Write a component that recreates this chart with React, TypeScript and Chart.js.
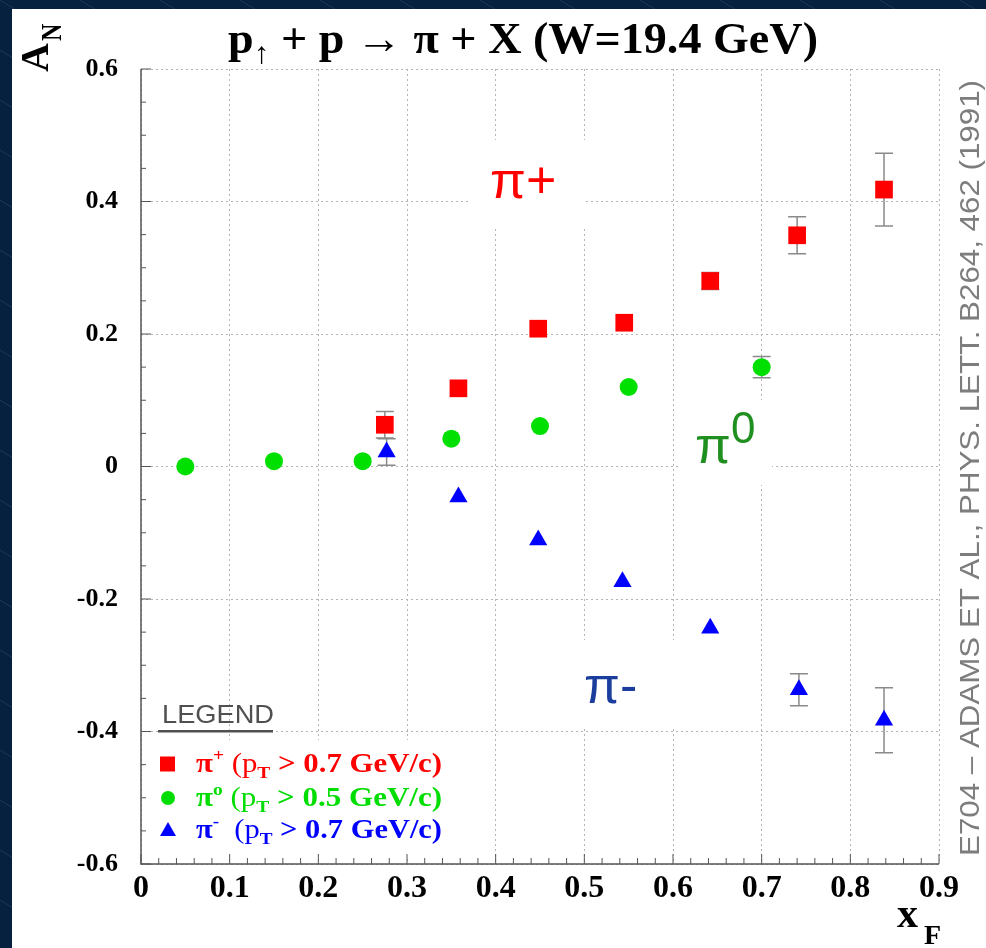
import React, { useEffect, useRef } from 'react';
import { Chart, registerables } from 'chart.js';

Chart.register(...registerables);

// ---- data ----
const piPlusX = [0.275, 0.358, 0.448, 0.545, 0.642, 0.74, 0.838];
const piPlusY = [0.063, 0.118, 0.208, 0.217, 0.28, 0.349, 0.418];
const piPlusErr = [0.02, 0.01, 0.008, 0.008, 0.013, 0.028, 0.055];

const piZeroX = [0.05, 0.15, 0.25, 0.35, 0.45, 0.55, 0.7];
const piZeroY = [0.0, 0.008, 0.008, 0.042, 0.061, 0.12, 0.15];
const piZeroErr = [0.006, 0.006, 0.006, 0.006, 0.008, 0.01, 0.016];

const piMinusX = [0.277, 0.358, 0.448, 0.543, 0.642, 0.742, 0.838];
const piMinusY = [0.022, -0.046, -0.111, -0.174, -0.244, -0.337, -0.383];
const piMinusErr = [0.02, 0.01, 0.008, 0.008, 0.01, 0.024, 0.049];

const xTickLabels = ['0', '0.1', '0.2', '0.3', '0.4', '0.5', '0.6', '0.7', '0.8', '0.9'];
const yTickLabels = ['-0.6', '-0.4', '-0.2', '0', '0.2', '0.4', '0.6'];

const titleParts = ['p', '↑', ' + p → π + X (W=19.4 GeV)'];
const legendRows = [
  { sup: '+', rest: ' > 0.7 GeV/c)', lead: ' (p' },
  { sup: 'o', rest: ' > 0.5 GeV/c)', lead: ' (p' },
  { sup: '-', rest: ' > 0.7 GeV/c)', lead: '  (p' },
];
const creditText = 'E704 – ADAMS ET AL., PHYS. LETT. B264, 462 (1991)';

const W = 986;
const H = 948;
const SERIF = '"Liberation Serif", "Times New Roman", serif';
const SANS = '"Liberation Sans", Arial, sans-serif';

type Seg = { t: string; font: string; dy: number; color?: string };

function drawSegs(ctx: CanvasRenderingContext2D, segs: Seg[], x: number, y: number, color: string, targetW?: number) {
  let total = 0;
  const widths = segs.map((s) => {
    ctx.font = s.font;
    const w = ctx.measureText(s.t).width;
    total += w;
    return w;
  });
  const sx = targetW ? targetW / total : 1;
  ctx.save();
  ctx.translate(x, y);
  ctx.scale(sx, 1);
  ctx.textAlign = 'left';
  ctx.textBaseline = 'alphabetic';
  let cx = 0;
  segs.forEach((s, i) => {
    ctx.font = s.font;
    ctx.fillStyle = s.color || color;
    ctx.fillText(s.t, cx, s.dy);
    cx += widths[i];
  });
  ctx.restore();
}

const errorBarPlugin = {
  id: 'errorBars',
  beforeDatasetsDraw(chart: any) {
    const { ctx, scales } = chart;
    const xs = scales.x;
    const ys = scales.y;
    ctx.save();
    ctx.strokeStyle = '#8a8a8a';
    ctx.lineWidth = 1.5;
    chart.data.datasets.forEach((ds: any) => {
      ds.data.forEach((p: any, i: number) => {
        const e = ds.errors[i];
        const px = xs.getPixelForValue(p.x);
        const y1 = ys.getPixelForValue(p.y + e);
        const y2 = ys.getPixelForValue(p.y - e);
        // bars shorter than the marker stay hidden behind it
        if (Math.abs(y2 - y1) / 2 < 8) return;
        ctx.beginPath();
        ctx.moveTo(px, y1);
        ctx.lineTo(px, y2);
        ctx.moveTo(px - 9, y1);
        ctx.lineTo(px + 9, y1);
        ctx.moveTo(px - 9, y2);
        ctx.lineTo(px + 9, y2);
        ctx.stroke();
      });
    });
    ctx.restore();
  },
};

const decorPlugin = {
  id: 'decor',
  beforeDraw(chart: any) {
    const ctx = chart.ctx as CanvasRenderingContext2D;
    ctx.save();
    ctx.fillStyle = '#06203f';
    ctx.fillRect(0, 0, W, H);
    ctx.strokeStyle = 'rgba(120,150,200,0.2)';
    ctx.lineWidth = 1;
    for (let k = -20; k < 30; k++) {
      const x0 = k * 80;
      ctx.beginPath();
      ctx.moveTo(x0, 0);
      ctx.lineTo(x0 + 1600, 1000);
      ctx.stroke();
    }
    ctx.fillStyle = '#ffffff';
    ctx.fillRect(12, 9, W - 12, H - 9);
    ctx.restore();
  },
  beforeDatasetsDraw(chart: any) {
    const ctx = chart.ctx as CanvasRenderingContext2D;
    const { left, right, top, bottom } = chart.chartArea;
    const xs = chart.scales.x;
    const ys = chart.scales.y;
    ctx.save();
    // white boxes behind annotations and legend
    ctx.fillStyle = '#ffffff';
    ctx.fillRect(468, 140, 117, 88);
    ctx.fillRect(680, 400, 92, 85);
    ctx.fillRect(566, 640, 114, 88);
    ctx.fillRect(148, 740, 310, 118);
    // axes
    ctx.strokeStyle = '#555';
    ctx.lineWidth = 1.5;
    ctx.beginPath();
    ctx.moveTo(left, top);
    ctx.lineTo(left, bottom);
    ctx.lineTo(right, bottom);
    ctx.stroke();
    ctx.lineWidth = 1;
    ctx.beginPath();
    for (let k = 0; k <= 45; k++) {
      const px = xs.getPixelForValue(k * 0.02);
      const len = k % 5 === 0 ? 10 : 6;
      ctx.moveTo(px, bottom);
      ctx.lineTo(px, bottom - len);
    }
    for (let k = 0; k <= 24; k++) {
      const py = ys.getPixelForValue(-0.6 + k * 0.05);
      const len = k % 4 === 0 ? 10 : 5;
      ctx.moveTo(left, py);
      ctx.lineTo(left + len, py);
    }
    ctx.stroke();
    ctx.restore();
  },
  afterDraw(chart: any) {
    const ctx = chart.ctx as CanvasRenderingContext2D;
    ctx.save();
    // title
    drawSegs(
      ctx,
      [
        { t: titleParts[0], font: `bold 44px ${SERIF}`, dy: 0 },
        { t: titleParts[1], font: `30px ${SERIF}`, dy: 10 },
        { t: titleParts[2], font: `bold 44px ${SERIF}`, dy: 0 },
      ],
      228,
      53,
      '#000',
      590
    );
    // y title A_N
    ctx.save();
    ctx.translate(48, 72);
    ctx.rotate(-Math.PI / 2);
    ctx.fillStyle = '#000';
    ctx.font = `bold 40px ${SERIF}`;
    ctx.fillText('A', 0, 0);
    ctx.font = `bold 30px ${SERIF}`;
    ctx.save();
    ctx.translate(31, 13);
    ctx.scale(0.8, 1);
    ctx.fillText('N', 0, 0);
    ctx.restore();
    ctx.restore();
    // x title x_F
    ctx.fillStyle = '#000';
    ctx.font = `bold 42px ${SERIF}`;
    ctx.fillText('x', 897, 927);
    ctx.font = `bold 28px ${SERIF}`;
    ctx.fillText('F', 924, 944);
    // credit vertical text
    ctx.save();
    ctx.translate(979, 856);
    ctx.rotate(-Math.PI / 2);
    drawSegs(ctx, [{ t: creditText, font: `28px ${SANS}`, dy: 0 }], 0, 0, '#7d7d7d', 776);
    ctx.restore();
    // annotations
    ctx.font = `52px ${SANS}`;
    ctx.fillStyle = '#ff0000';
    ctx.fillText('π+', 490, 198);
    ctx.fillStyle = '#1f8f1f';
    ctx.fillText('π', 695, 463);
    ctx.font = `44px ${SANS}`;
    ctx.fillText('0', 731, 443);
    ctx.font = `52px ${SANS}`;
    ctx.fillStyle = '#1b3d9d';
    ctx.fillText('π-', 584, 703);
    // legend
    drawSegs(ctx, [{ t: 'LEGEND', font: `26px ${SANS}`, dy: 0 }], 162, 723, '#505050', 112);
    ctx.fillStyle = '#505050';
    ctx.fillRect(158, 730, 115, 2.5);
    const colors = ['#ff0000', '#00dd00', '#0000ff'];
    const cy = [764, 798, 830];
    // markers
    ctx.fillStyle = colors[0];
    ctx.fillRect(160, cy[0] - 7.5, 15, 15);
    ctx.fillStyle = colors[1];
    ctx.beginPath();
    ctx.arc(168, cy[1], 7, 0, Math.PI * 2);
    ctx.fill();
    ctx.fillStyle = colors[2];
    ctx.beginPath();
    ctx.moveTo(168, cy[2] - 8);
    ctx.lineTo(176, cy[2] + 6);
    ctx.lineTo(160, cy[2] + 6);
    ctx.closePath();
    ctx.fill();
    legendRows.forEach((r, i) => {
      drawSegs(
        ctx,
        [
          { t: 'π', font: `bold 27px ${SERIF}`, dy: 0 },
          { t: r.sup, font: `bold 17px ${SERIF}`, dy: -11 },
          { t: r.lead, font: `27px ${SERIF}`, dy: 0 },
          { t: 'T', font: `bold 17px ${SERIF}`, dy: 6 },
          { t: r.rest, font: `bold 27px ${SERIF}`, dy: 0 },
        ],
        196,
        cy[i] + 8,
        colors[i],
        246
      );
    });
    ctx.restore();
  },
};

export default function App() {
  const ref = useRef<HTMLCanvasElement | null>(null);
  useEffect(() => {
    if (!ref.current) return;
    const mk = (x: number[], y: number[]) => x.map((v, i) => ({ x: v, y: y[i] }));
    const chart = new Chart(ref.current, {
      type: 'scatter',
      data: {
        datasets: [
          {
            label: 'π+',
            data: mk(piPlusX, piPlusY),
            errors: piPlusErr,
            pointStyle: 'rect',
            pointRadius: 12.5,
            backgroundColor: '#ff0000',
            borderWidth: 0,
          } as any,
          {
            label: 'π0',
            data: mk(piZeroX, piZeroY),
            errors: piZeroErr,
            pointStyle: 'circle',
            pointRadius: 9,
            backgroundColor: '#00e000',
            borderWidth: 0,
          } as any,
          {
            label: 'π-',
            data: mk(piMinusX, piMinusY),
            errors: piMinusErr,
            pointStyle: 'triangle',
            pointRadius: 10.5,
            backgroundColor: '#0000ff',
            borderWidth: 0,
          } as any,
        ],
      },
      options: {
        animation: false,
        responsive: false,
        devicePixelRatio: 1,
        layout: { padding: { left: 0, right: 47, top: 69, bottom: 0 } },
        plugins: {
          legend: { display: false },
          title: { display: false },
          tooltip: { enabled: false },
        },
        scales: {
          x: {
            type: 'linear',
            min: 0,
            max: 0.9,
            afterFit: (s: any) => {
              s.height = 84;
            },
            ticks: {
              stepSize: 0.1,
              padding: 6,
              autoSkip: false,
              maxRotation: 0,
              color: '#000',
              font: { family: 'Liberation Serif', size: 32, weight: 'bold' },
              callback: (v: any) => xTickLabels[Math.round(Number(v) * 10)] ?? '',
            },
            grid: { color: '#b4b4b4', lineWidth: 1, drawTicks: false },
            border: { display: false, dash: [2, 3] },
          },
          y: {
            type: 'linear',
            min: -0.6,
            max: 0.6,
            afterFit: (s: any) => {
              s.width = 141;
            },
            ticks: {
              stepSize: 0.2,
              padding: 23,
              autoSkip: false,
              color: '#000',
              font: { family: 'Liberation Serif', size: 26, weight: 'bold' },
              callback: (v: any) => yTickLabels[Math.round((Number(v) + 0.6) * 5)] ?? '',
            },
            grid: { color: '#b4b4b4', lineWidth: 1, drawTicks: false },
            border: { display: false, dash: [2, 3] },
          },
        },
      },
      plugins: [decorPlugin, errorBarPlugin],
    } as any);
    return () => chart.destroy();
  }, []);
  return (
    <div style={{ position: 'absolute', left: 0, top: 0, width: W, height: H, overflow: 'hidden' }}>
      <canvas ref={ref} width={W} height={H} style={{ display: 'block', width: W, height: H }} />
    </div>
  );
}
